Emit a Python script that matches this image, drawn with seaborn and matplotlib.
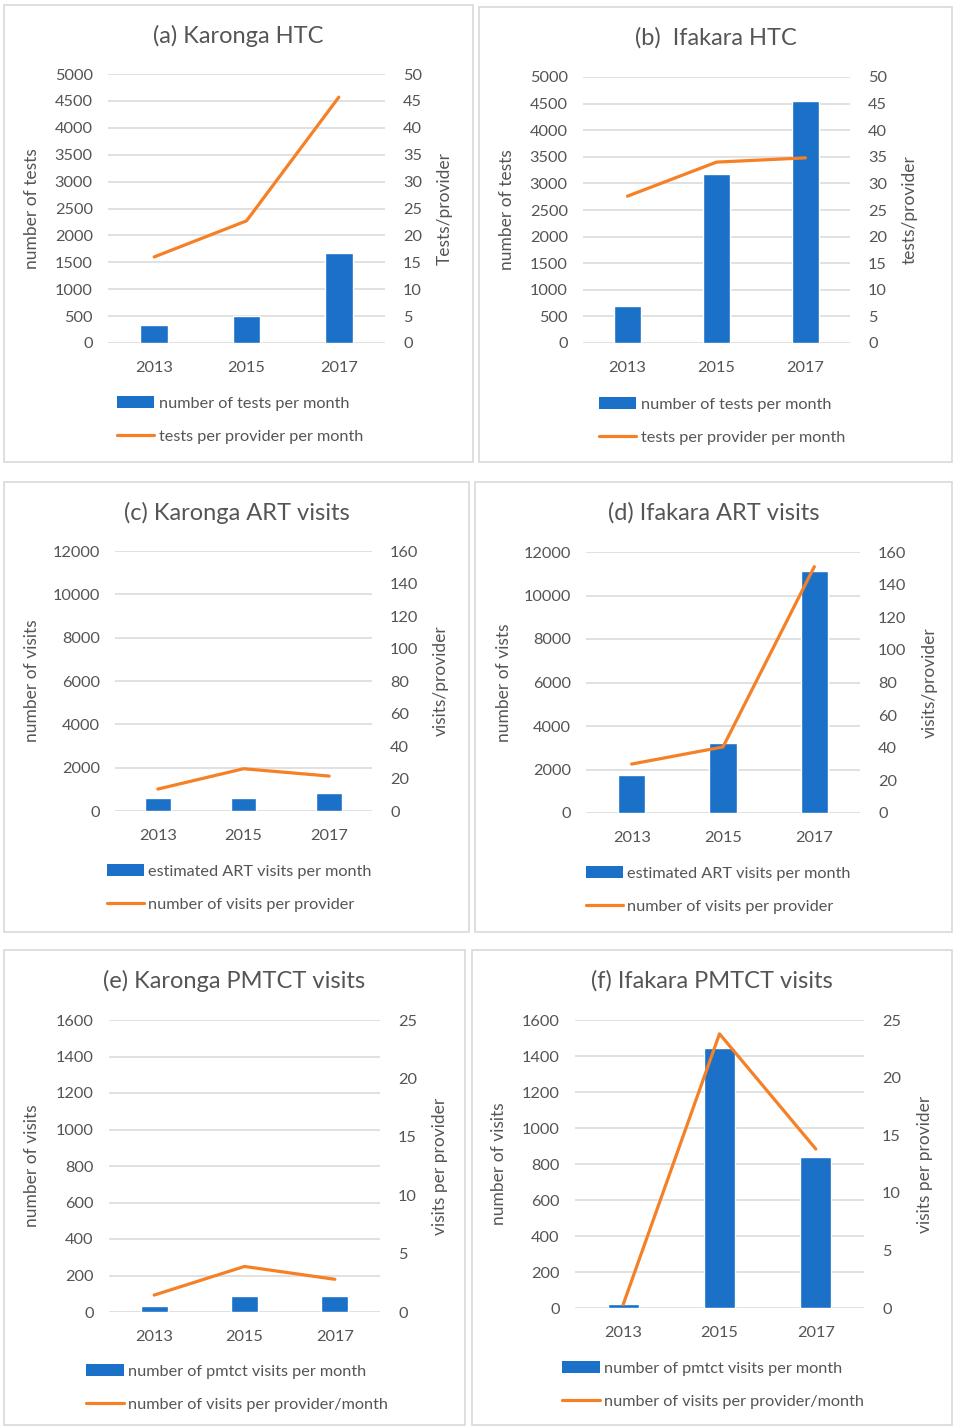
import matplotlib
matplotlib.use("Agg")
import matplotlib.pyplot as plt
import seaborn as sns
import numpy as np
import pandas as pd
from matplotlib.patches import Rectangle, Patch
from matplotlib.lines import Line2D

# data
years = ['2013', '2015', '2017']

a_tests = [340, 500, 1670]
a_per_provider = [16, 22.7, 45.7]
b_tests = [700, 3170, 4540]
b_per_provider = [27.6, 34, 34.8]
c_visits = [580, 590, 850]
c_per_provider = [13.5, 26, 21.5]
d_visits = [1750, 3240, 11130]
d_per_provider = [30, 40.5, 151]
e_visits = [33, 88, 88]
e_per_provider = [1.45, 3.9, 2.8]
f_visits = [22, 1444, 839]
f_per_provider = [0.3, 23.8, 13.8]

titles = ['(a) Karonga HTC', '(b)  Ifakara HTC', '(c) Karonga ART visits',
          '(d) Ifakara ART visits', '(e) Karonga PMTCT visits', '(f) Ifakara PMTCT visits']
left_labels = ['number of tests', 'number of tests', 'number of visits',
               'number of vists', 'number of visits', 'number of visits']
right_labels = ['Tests/provider', 'tests/provider', 'visits/provider',
                'visits/provider', 'visits per provider', 'visits per provider']
bar_names = ['number of tests per month', 'number of tests per month',
             'estimated ART visits per month', 'estimated ART visits per month',
             'number of pmtct visits per month', 'number of pmtct visits per month']
line_names = ['tests per provider per month', 'tests per provider per month',
              'number of visits per provider', 'number of visits per provider',
              'number of visits per provider/month', 'number of visits per provider/month']
bar_data = [a_tests, b_tests, c_visits, d_visits, e_visits, f_visits]
line_data = [a_per_provider, b_per_provider, c_per_provider, d_per_provider,
             e_per_provider, f_per_provider]
left_max = [5000, 5000, 12000, 12000, 1600, 1600]
left_step = [500, 500, 2000, 2000, 200, 200]
right_max = [50, 50, 160, 160, 25, 25]
right_step = [5, 5, 20, 20, 5, 5]

# layout in pixels: panel box, plot area, label x positions, legend centre
W, H = 954, 1427
boxes = [(4, 5, 473, 462), (479, 7, 952, 462), (4, 482, 469, 932),
         (475, 482, 952, 932), (4, 950, 465, 1425), (472, 950, 952, 1425)]
plots = [(108, 74, 385, 343), (583, 77, 850, 343), (115, 551, 372, 811),
         (586, 552, 860, 813), (109, 1020, 380, 1312), (575, 1020, 864, 1308)]
ylab_left = [40, 515, 40, 512, 40, 507]
ylab_right = [437, 902, 433, 922, 432, 917]
legend_pos = [(240, 420), (722, 421), (239, 888), (718, 890), (237, 1388), (713, 1385)]
bar_widths = [0.3, 0.3, 0.3, 0.3, 0.3, 0.32]

blue = '#1B70C8'
orange = '#F58025'
grey = '#555555'
gridc = '#D9D9D9'

sns.set_style('white')
plt.rcParams['font.family'] = ['Lato', 'DejaVu Sans']

fig = plt.figure(figsize=(W / 100, H / 100), dpi=100)

for i in range(6):
    bx0, by0, bx1, by1 = boxes[i]
    fig.patches.append(Rectangle((bx0 / W, 1 - by1 / H), (bx1 - bx0) / W, (by1 - by0) / H,
                                 transform=fig.transFigure, fill=False,
                                 edgecolor=gridc, linewidth=1.2))
    fig.text((bx0 + bx1) / 2 / W, 1 - (by0 + 31) / H, titles[i], ha='center', va='center',
             fontsize=17, color=grey)

    px0, py0, px1, py1 = plots[i]
    ax = fig.add_axes([px0 / W, 1 - py1 / H, (px1 - px0) / W, (py1 - py0) / H])
    df = pd.DataFrame({'year': years, 'value': bar_data[i]})
    sns.barplot(data=df, x='year', y='value', ax=ax, color=blue, saturation=1,
                width=bar_widths[i], zorder=3)
    ax.set_ylim(0, left_max[i])
    ax.set_yticks(np.arange(0, left_max[i] + 1, left_step[i]))
    ax.grid(axis='y', color=gridc, linewidth=1.1, zorder=0)
    ax.set_axisbelow(True)
    for s in ax.spines.values():
        s.set_visible(False)
    ax.tick_params(length=0, labelsize=11.8, labelcolor=grey)
    ax.tick_params(axis='y', pad=11)
    ax.tick_params(axis='x', pad=13)
    ax.set_xlabel('')
    ax.set_ylabel(left_labels[i], fontsize=12.5, color=grey)
    ax.yaxis.set_label_coords((ylab_left[i] - px0) / (px1 - px0), 0.5)

    ax2 = ax.twinx()
    sns.lineplot(x=[0, 1, 2], y=line_data[i], ax=ax2, color=orange, linewidth=2.3)
    ax2.set_ylim(0, right_max[i])
    ax2.set_yticks(np.arange(0, right_max[i] + 1, right_step[i]))
    ax2.set_xlim(-0.5, 2.5)
    ax.set_xlim(-0.5, 2.5)
    ax2.grid(False)
    for s in ax2.spines.values():
        s.set_visible(False)
    ax2.tick_params(length=0, labelsize=11.8, labelcolor=grey, pad=13)
    ax2.set_ylabel(right_labels[i], fontsize=12.5, color=grey)
    ax2.yaxis.set_label_coords((ylab_right[i] - px0) / (px1 - px0), 0.5)

    handles = [Patch(facecolor=blue, edgecolor='none'),
               Line2D([0], [0], color=orange, linewidth=2.3)]
    lx, ly = legend_pos[i]
    fig.legend(handles, [bar_names[i], line_names[i]], loc='center',
               bbox_to_anchor=(lx / W, 1 - ly / H), frameon=False, fontsize=11.7,
               labelcolor=grey, handlelength=2.3, handletextpad=0.25,
               labelspacing=1.15, borderpad=0)

fig.savefig('out.png', dpi=100, facecolor='white')
